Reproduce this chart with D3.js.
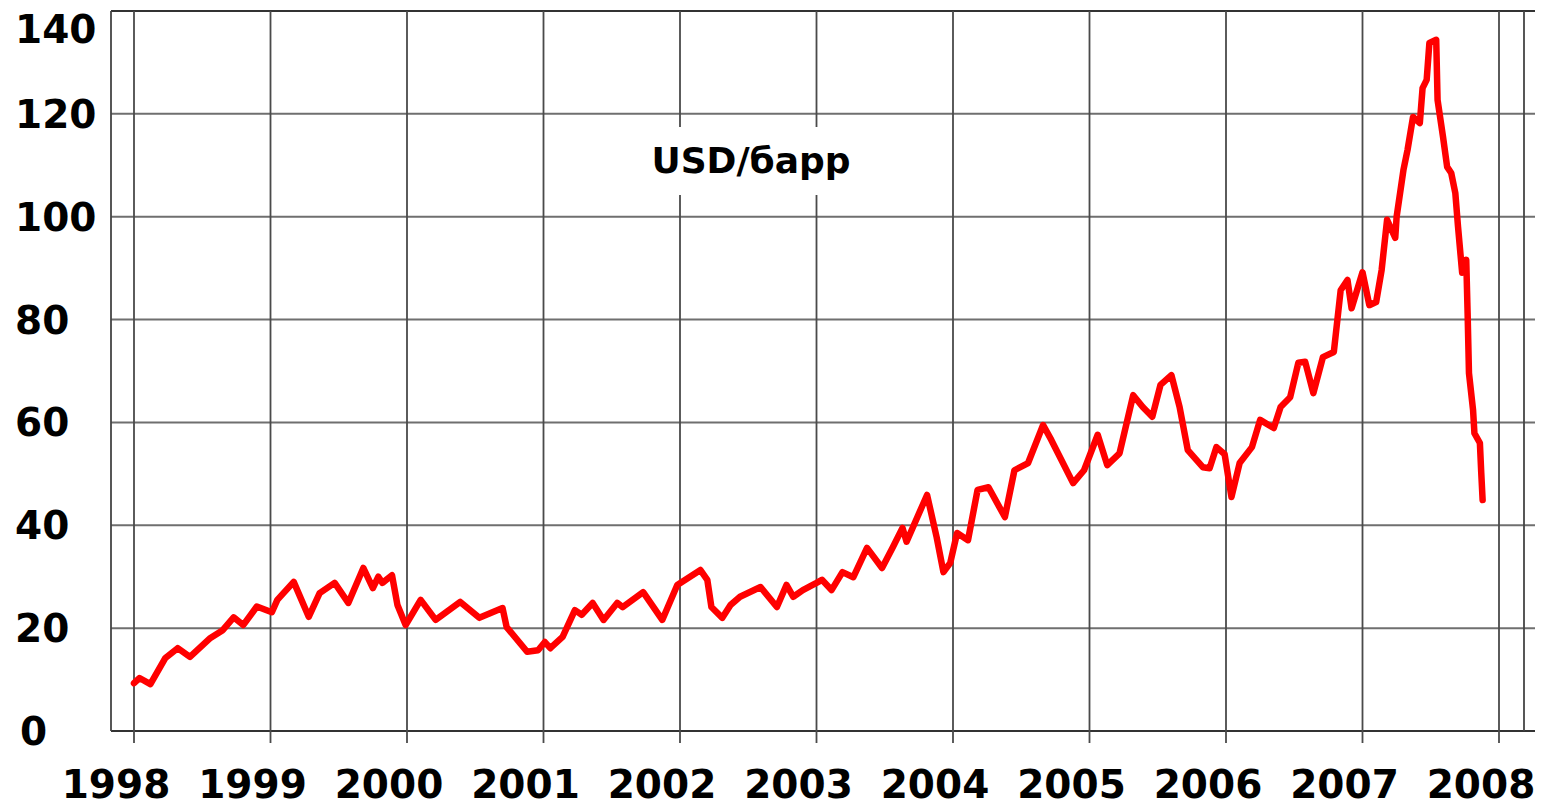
<!DOCTYPE html>
<html>
<head>
<meta charset="utf-8">
<script src="https://cdn.jsdelivr.net/npm/d3@7"></script>
<style>
  body { margin: 0; background: #fff; }
  svg text { font-family: "Comic Sans MS", "DejaVu Sans", sans-serif; font-weight: bold; fill: #000; }
</style>
</head>
<body>
<div id="chart"></div>
<script>
// Tick labels
const years = [1998, 1999, 2000, 2001, 2002, 2003, 2004, 2005, 2006, 2007, 2008];
const yTicks = [0, 20, 40, 60, 80, 100, 120, 140];
const title = "USD/барр";

// Price series: [fractional year, USD per barrel]
const oil = [
  [1998.00, 9.3], [1998.04, 10.3], [1998.12, 9.1], [1998.23, 14.2], [1998.32, 16.1],
  [1998.41, 14.4], [1998.56, 18.1], [1998.65, 19.6], [1998.73, 22.1], [1998.80, 20.6],
  [1998.90, 24.2], [1999.01, 23.1], [1999.05, 25.5], [1999.17, 29.0], [1999.28, 22.2],
  [1999.36, 26.8], [1999.47, 28.8], [1999.57, 24.9], [1999.68, 31.7], [1999.75, 27.8],
  [1999.79, 30.0], [1999.82, 28.8], [1999.89, 30.3], [1999.93, 24.5], [1999.99, 20.6],
  [2000.10, 25.5], [2000.21, 21.6], [2000.39, 25.1], [2000.53, 22.0], [2000.70, 23.9],
  [2000.73, 20.2], [2000.88, 15.4], [2000.96, 15.7], [2001.01, 17.3], [2001.05, 16.1],
  [2001.14, 18.3], [2001.23, 23.5], [2001.28, 22.6], [2001.36, 24.9], [2001.44, 21.6],
  [2001.54, 24.9], [2001.58, 24.1], [2001.73, 27.0], [2001.87, 21.6], [2001.98, 28.4],
  [2002.15, 31.3], [2002.20, 29.4], [2002.23, 24.1], [2002.31, 22.0], [2002.37, 24.5],
  [2002.44, 26.1], [2002.59, 28.0], [2002.71, 24.1], [2002.78, 28.4], [2002.83, 26.1],
  [2002.90, 27.4], [2003.00, 28.8], [2003.04, 29.4], [2003.11, 27.4], [2003.19, 30.9],
  [2003.27, 29.9], [2003.37, 35.6], [2003.48, 31.7], [2003.56, 35.8], [2003.63, 39.5],
  [2003.66, 36.8], [2003.81, 45.9], [2003.88, 37.7], [2003.93, 30.9], [2003.98, 32.7],
  [2004.03, 38.5], [2004.11, 37.1], [2004.18, 46.9], [2004.26, 47.4], [2004.38, 41.6],
  [2004.45, 50.7], [2004.55, 52.1], [2004.66, 59.5], [2004.72, 56.6], [2004.88, 48.2],
  [2004.96, 50.7], [2005.06, 57.6], [2005.13, 51.7], [2005.22, 54.0], [2005.32, 65.3],
  [2005.39, 63.0], [2005.46, 61.1], [2005.52, 67.3], [2005.60, 69.2], [2005.66, 63.0],
  [2005.72, 54.6], [2005.83, 51.3], [2005.88, 51.1], [2005.93, 55.2], [2005.99, 53.8],
  [2006.04, 45.5], [2006.10, 52.1], [2006.19, 55.2], [2006.25, 60.5], [2006.35, 58.9],
  [2006.40, 63.0], [2006.47, 64.9], [2006.53, 71.6], [2006.58, 71.8], [2006.64, 65.7],
  [2006.71, 72.7], [2006.79, 73.7], [2006.84, 85.7], [2006.89, 87.7], [2006.92, 82.2],
  [2007.00, 89.2], [2007.05, 82.8], [2007.10, 83.4], [2007.14, 89.6], [2007.18, 99.4],
  [2007.24, 95.9], [2007.25, 100.0], [2007.30, 109.1], [2007.33, 113.0], [2007.37, 119.4],
  [2007.42, 118.2], [2007.44, 125.0], [2007.47, 126.6], [2007.49, 133.8], [2007.54, 134.4],
  [2007.55, 122.7], [2007.59, 115.5], [2007.62, 109.7], [2007.65, 108.5], [2007.68, 104.6],
  [2007.70, 98.0], [2007.73, 89.1], [2007.76, 91.6], [2007.77, 81.3], [2007.78, 69.6],
  [2007.81, 62.4], [2007.82, 57.9], [2007.86, 56.0], [2007.87, 50.2], [2007.88, 44.9]
];

const W = 1550, H = 806;
const frame = { left: 111, right: 1524, top: 11, bottom: 731, gridEnd: 1535 };

const x = d3.scaleLinear().domain([1998, 2008]).range([134, 1499]);
const y = d3.scaleLinear().domain([0, 140]).range([frame.bottom, frame.top]);

const svg = d3.select("#chart").append("svg")
  .attr("width", W)
  .attr("height", H);

// Horizontal grid lines
svg.append("g")
  .selectAll("line")
  .data(yTicks)
  .enter().append("line")
  .attr("x1", frame.left)
  .attr("x2", frame.gridEnd)
  .attr("y1", d => y(d))
  .attr("y2", d => y(d))
  .attr("stroke", d => (d === 0 || d === 140) ? "#333" : "#6f6f6f")
  .attr("stroke-width", 2);

// Vertical grid lines with tick below the axis
svg.append("g")
  .selectAll("line")
  .data(years)
  .enter().append("line")
  .attr("x1", d => x(d))
  .attr("x2", d => x(d))
  .attr("y1", frame.top)
  .attr("y2", frame.bottom + 12)
  .attr("stroke", "#4a4a4a")
  .attr("stroke-width", 1.8);

// Frame sides
svg.append("line")
  .attr("x1", frame.left).attr("x2", frame.left)
  .attr("y1", frame.top).attr("y2", frame.bottom)
  .attr("stroke", "#444").attr("stroke-width", 1.8);
svg.append("line")
  .attr("x1", frame.right).attr("x2", frame.right)
  .attr("y1", frame.top).attr("y2", frame.bottom)
  .attr("stroke", "#444").attr("stroke-width", 1.8);

// Title with white box behind it
svg.append("rect")
  .attr("x", 634).attr("y", 127)
  .attr("width", 236).attr("height", 68)
  .attr("fill", "#fff");
svg.append("text")
  .attr("x", 751)
  .attr("y", 173)
  .attr("text-anchor", "middle")
  .style("font-size", "36px")
  .text(title);

// Y labels
svg.append("g")
  .selectAll("text")
  .data(yTicks)
  .enter().append("text")
  .attr("x", d => d === 0 ? 20 : 15)
  .attr("y", d => Math.max(y(d), 29))
  .attr("dy", "0.36em")
  .style("font-size", "39px")
  .text(d => d);

// X labels
svg.append("g")
  .selectAll("text")
  .data(years)
  .enter().append("text")
  .attr("x", d => x(d) - 18)
  .attr("y", 798)
  .attr("text-anchor", "middle")
  .style("font-size", "39px")
  .text(d => d);

// Price line
const line = d3.line()
  .x(d => x(d[0]))
  .y(d => y(d[1]));

svg.append("path")
  .datum(oil)
  .attr("d", line)
  .attr("fill", "none")
  .attr("stroke", "#ff0000")
  .attr("stroke-width", 6.5)
  .attr("stroke-linejoin", "round")
  .attr("stroke-linecap", "round");
</script>
</body>
</html>
